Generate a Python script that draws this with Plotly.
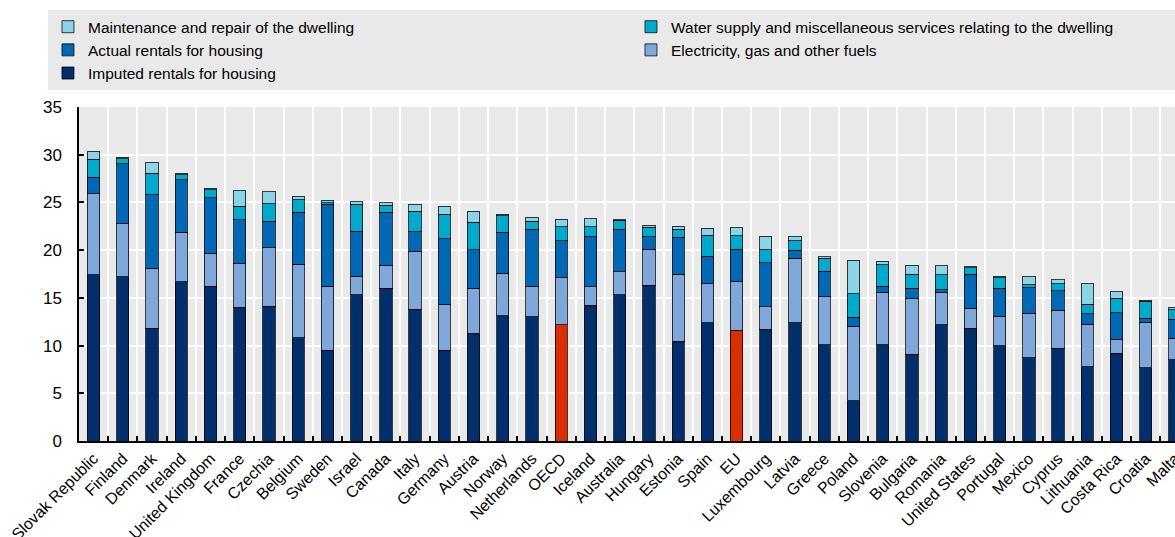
import plotly.graph_objects as go

countries = ["Slovak Republic", "Finland", "Denmark", "Ireland", "United Kingdom", "France",
             "Czechia", "Belgium", "Sweden", "Israel", "Canada", "Italy", "Germany", "Austria",
             "Norway", "Netherlands", "OECD", "Iceland", "Australia", "Hungary", "Estonia",
             "Spain", "EU", "Luxembourg", "Latvia", "Greece", "Poland", "Slovenia", "Bulgaria",
             "Romania", "United States", "Portugal", "Mexico", "Cyprus", "Lithuania",
             "Costa Rica", "Croatia", "Malta"]

imputed = [17.4, 17.2, 11.8, 16.7, 16.2, 14.0, 14.1, 10.8, 9.5, 15.3, 16.0, 13.8, 9.5, 11.3,
           13.1, 13.0, 12.2, 14.2, 15.3, 16.3, 10.45, 12.4, 11.6, 11.7, 12.4, 10.1, 4.2, 10.1,
           9.1, 12.2, 11.8, 10.0, 8.7, 9.7, 7.8, 9.2, 7.7, 8.5]
electricity = [8.5, 5.55, 6.3, 5.2, 3.45, 4.55, 6.15, 7.7, 6.7, 1.95, 2.4, 6.1, 4.85, 4.7,
               4.5, 3.2, 4.9, 1.95, 2.45, 3.8, 7.0, 4.15, 5.15, 2.35, 6.75, 5.0, 7.8, 5.5,
               5.8, 3.4, 2.1, 3.05, 4.7, 4.0, 4.45, 1.45, 4.75, 2.25]
actual = [1.75, 6.3, 7.7, 5.5, 5.85, 4.65, 2.8, 5.45, 8.6, 4.75, 5.55, 2.05, 6.85, 4.05,
          4.3, 6.0, 3.9, 5.3, 4.45, 1.3, 3.9, 2.8, 3.35, 4.65, 0.85, 2.7, 0.95, 0.6,
          1.1, 0.25, 3.6, 2.95, 2.65, 2.05, 1.1, 2.8, 0.4, 2.0]
water = [1.85, 0.55, 2.25, 0.5, 0.85, 1.4, 1.8, 1.35, 0.15, 2.8, 0.75, 2.15, 2.55, 2.85,
         1.7, 0.85, 1.45, 1.0, 0.95, 1.0, 0.85, 2.2, 1.4, 1.35, 1.0, 1.35, 2.5, 2.25,
         1.45, 1.55, 0.65, 1.1, 0.3, 0.75, 1.0, 1.5, 1.8, 1.0]
maintenance = [0.85, 0.15, 1.1, 0.15, 0.15, 1.65, 1.25, 0.35, 0.3, 0.25, 0.25, 0.7, 0.85, 1.2,
               0.15, 0.4, 0.8, 0.85, 0.05, 0.2, 0.3, 0.75, 0.85, 1.4, 0.4, 0.15, 3.5, 0.4,
               0.95, 0.95, 0.1, 0.15, 0.85, 0.4, 2.15, 0.7, 0.1, 0.25]

highlight = ["OECD", "EU"]

NAVY = "#002F6C"
RED = "#D92E00"
imputed_colors = [RED if c in highlight else NAVY for c in countries]

series = [
    ("Imputed rentals for housing", imputed, imputed_colors),
    ("Electricity, gas and other fuels", electricity, "#7FA7D9"),
    ("Actual rentals for housing", actual, "#0068B5"),
    ("Water supply and miscellaneous services relating to the dwelling", water, "#00AACC"),
    ("Maintenance and repair of the dwelling", maintenance, "#8BD3E6"),
]

fig = go.Figure()
for name, vals, col in series:
    fig.add_trace(go.Bar(
        x=countries, y=vals, name=name,
        marker=dict(color=col, line=dict(color="rgba(0,0,0,0.75)", width=1)),
        width=0.42,
    ))

FONT = "Liberation Sans, Arial, sans-serif"

fig.update_layout(
    width=1175, height=537,
    barmode="stack",
    plot_bgcolor="#E9E9E9",
    paper_bgcolor="white",
    margin=dict(l=79, r=0, t=107, b=96, pad=0, autoexpand=False),
    font=dict(family=FONT, color="black"),
    showlegend=True,
    legend=dict(
        orientation="h",
        traceorder="reversed",
        x=-0.0283, xanchor="left",
        y=1.29, yanchor="top",
        bgcolor="#E9E9E9",
        entrywidth=538, entrywidthmode="pixels",
        font=dict(family=FONT, size=15.5),
        itemwidth=30,
        tracegroupgap=0,
    ),
)

fig.update_xaxes(
    type="category",
    range=[-0.5, 37.0],
    tickson="boundaries",
    showgrid=True, gridcolor="white", gridwidth=2,
    ticks="inside", ticklen=5, tickcolor="black", tickwidth=2,
    showline=True, linecolor="black", linewidth=2,
    tickangle=-45,
    tickfont=dict(family=FONT, size=16, color="black"),
    automargin=False,
    fixedrange=True,
)
fig.update_yaxes(
    range=[0, 35],
    tickvals=[0, 5, 10, 15, 20, 25, 30, 35],
    showgrid=True, gridcolor="white", gridwidth=2,
    ticks="inside", ticklen=5, tickcolor="black", tickwidth=1.5,
    showline=True, linecolor="black", linewidth=1.5,
    zeroline=False,
    tickfont=dict(family=FONT, size=17, color="black"),
    ticklabelstandoff=12,
    automargin=False,
    fixedrange=True,
)

fig.write_html("out.html", config={"displayModeBar": False},
               post_script="document.body.style.margin='0px';")
